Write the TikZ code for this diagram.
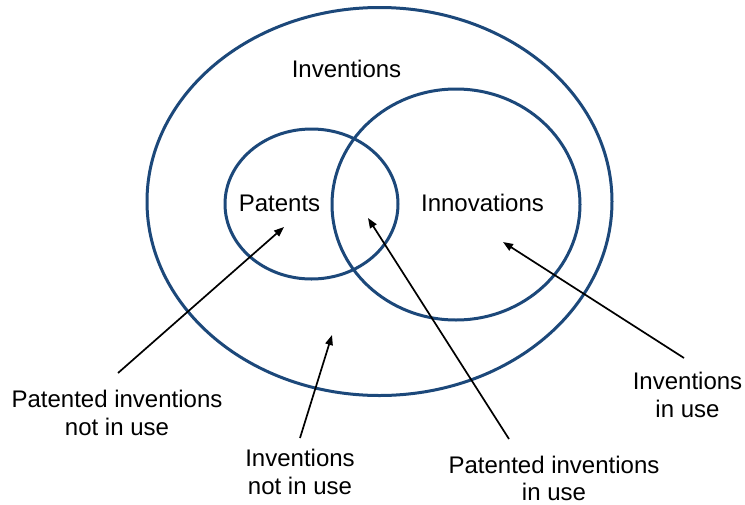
\documentclass[tikz,border=0pt]{standalone}
\usepackage{fontspec}
\setmainfont{Liberation Sans}
\usetikzlibrary{arrows.meta}
\definecolor{ringblue}{RGB}{28,72,122}
\tikzset{
  ring/.style={draw=ringblue, line width=3pt},
  lbl/.style={font=\fontsize{24}{27.6}\selectfont, inner sep=0pt, align=center, text=black},
  pointer/.style={draw=black, line width=1.7pt, -{Triangle[length=10pt,width=7.5pt]}}
}
\begin{document}
\begin{tikzpicture}[x=1pt,y=-1pt]
\useasboundingbox (0,0) rectangle (745,504);
\fill[white] (0,0) rectangle (745,504);
% rings
\coordinate (bigc) at (379.5,201.5);
\coordinate (patc) at (311.5,204);
\coordinate (innc) at (456,204.5);
\draw[ring] (bigc) ellipse [x radius=232.5pt, y radius=194pt];
\draw[ring] (patc) ellipse [x radius=86.5pt, y radius=75pt];
\draw[ring] (innc) ellipse [x radius=124pt, y radius=115.5pt];
% labels in rings
\node[lbl, anchor=base] (inv) at (346.5,77) {Inventions};
\node[lbl, anchor=base] (pat) at (279.5,211) {Patents};
\node[lbl, anchor=base] (inno) at (482.5,211) {Innovations};
% outside labels
\node[lbl] (pinu) at (117,413) {Patented inventions\\not in use};
\node[lbl] (inu) at (300,472) {Inventions\\not in use};
\node[lbl] (piu) at (554,478.5) {Patented inventions\\in use};
\node[lbl] (iiu) at (687.5,395) {Inventions\\in use};
% arrow ends
\coordinate (pinuS) at (118,373);
\coordinate (pinuT) at (284,227);
\coordinate (inuS) at (300,438);
\coordinate (inuT) at (332,335);
\coordinate (piuS) at (509,439);
\coordinate (piuT) at (368,218);
\coordinate (iiuS) at (684,358);
\coordinate (iiuT) at (503,242);
\draw[pointer] (pinuS) -- (pinuT);
\draw[pointer] (inuS) -- (inuT);
\draw[pointer] (piuS) -- (piuT);
\draw[pointer] (iiuS) -- (iiuT);
\end{tikzpicture}
\end{document}
